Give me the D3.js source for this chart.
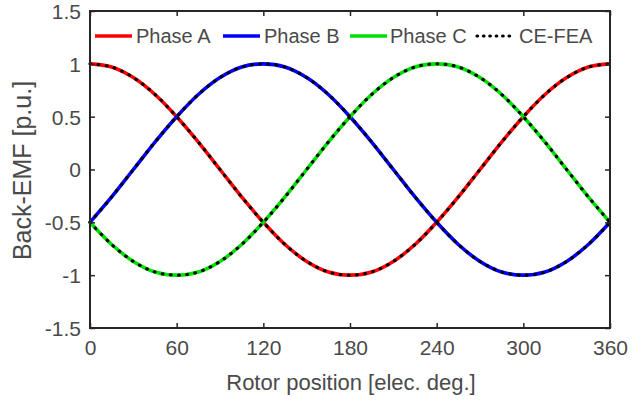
<!DOCTYPE html>
<html>
<head>
<meta charset="utf-8">
<script src="https://cdn.jsdelivr.net/npm/d3@7"></script>
<style>
  html, body { margin: 0; padding: 0; background: #fff; }
  svg { display: block; font-family: "Liberation Sans", Arial, sans-serif; }
</style>
</head>
<body>
<svg id="chart" width="644" height="401"></svg>
<script>
// Rotor position samples [elec. deg.]
const angles = [0, 15, 30, 45, 60, 75, 90, 105, 120, 135, 150, 165, 180,
                195, 210, 225, 240, 255, 270, 285, 300, 315, 330, 345, 360];

// Back-EMF per phase [p.u.]
const phaseA = [1, 0.97, 0.87, 0.71, 0.5, 0.26, 0, -0.26, -0.5, -0.71, -0.87, -0.97, -1,
                -0.97, -0.87, -0.71, -0.5, -0.26, 0, 0.26, 0.5, 0.71, 0.87, 0.97, 1];
const phaseB = [-0.5, -0.26, 0, 0.26, 0.5, 0.71, 0.87, 0.97, 1, 0.97, 0.87, 0.71, 0.5,
                0.26, 0, -0.26, -0.5, -0.71, -0.87, -0.97, -1, -0.97, -0.87, -0.71, -0.5];
const phaseC = [-0.5, -0.71, -0.87, -0.97, -1, -0.97, -0.87, -0.71, -0.5, -0.26, 0, 0.26, 0.5,
                0.71, 0.87, 0.97, 1, 0.97, 0.87, 0.71, 0.5, 0.26, 0, -0.26, -0.5];

// CE-FEA results for the three phases
const feaA = [1, 0.97, 0.87, 0.71, 0.5, 0.26, 0, -0.26, -0.5, -0.71, -0.87, -0.97, -1,
              -0.97, -0.87, -0.71, -0.5, -0.26, 0, 0.26, 0.5, 0.71, 0.87, 0.97, 1];
const feaB = [-0.5, -0.26, 0, 0.26, 0.5, 0.71, 0.87, 0.97, 1, 0.97, 0.87, 0.71, 0.5,
              0.26, 0, -0.26, -0.5, -0.71, -0.87, -0.97, -1, -0.97, -0.87, -0.71, -0.5];
const feaC = [-0.5, -0.71, -0.87, -0.97, -1, -0.97, -0.87, -0.71, -0.5, -0.26, 0, 0.26, 0.5,
              0.71, 0.87, 0.97, 1, 0.97, 0.87, 0.71, 0.5, 0.26, 0, -0.26, -0.5];

const xTicks = [0, 60, 120, 180, 240, 300, 360];
const yTicks = [-1.5, -1, -0.5, 0, 0.5, 1, 1.5];
const legendLabels = ["Phase A", "Phase B", "Phase C", "CE-FEA"];

const svg = d3.select("#chart");
const plotLeft = 90, plotRight = 610, plotTop = 11, plotBottom = 328;

const x = d3.scaleLinear().domain([0, 360]).range([plotLeft, plotRight]);
const y = d3.scaleLinear().domain([-1.5, 1.5]).range([plotBottom, plotTop]);

const axisColor = "#262626";
const textColor = "#4a4a4a";
const fontFamily = "'Liberation Sans', Arial, sans-serif";
const dotDash = "0.6 7.6";

const line = d3.line()
  .x((d, i) => x(angles[i]))
  .y(d => y(d))
  .curve(d3.curveCatmullRom.alpha(0.5));

const plot = svg.append("g");

// Solid phase curves
const phases = [
  { values: phaseA, color: "#ff0000" },
  { values: phaseB, color: "#0000ff" },
  { values: phaseC, color: "#00e000" }
];
phases.forEach(p => {
  plot.append("path")
    .attr("d", line(p.values))
    .attr("fill", "none")
    .attr("stroke", p.color)
    .attr("stroke-width", 3.6);
});

// Dotted CE-FEA overlay
[feaA, feaB, feaC].forEach(v => {
  plot.append("path")
    .attr("d", line(v))
    .attr("fill", "none")
    .attr("stroke", "#000")
    .attr("stroke-width", 3.2)
    .attr("stroke-linecap", "round")
    .attr("stroke-dasharray", dotDash);
});

// Axes with inward ticks on all four sides
const tickLen = 5;
const plainNum = d => String(d);
const gx = svg.append("g").attr("transform", `translate(0,${plotBottom})`)
  .call(d3.axisBottom(x).tickValues(xTicks).tickSizeInner(-tickLen).tickSizeOuter(0)
    .tickPadding(12).tickFormat(plainNum));
const gxTop = svg.append("g").attr("transform", `translate(0,${plotTop})`)
  .call(d3.axisTop(x).tickValues(xTicks).tickSizeInner(-tickLen).tickSizeOuter(0).tickFormat(""));
const gy = svg.append("g").attr("transform", `translate(${plotLeft},0)`)
  .call(d3.axisLeft(y).tickValues(yTicks).tickSizeInner(-tickLen).tickSizeOuter(0)
    .tickPadding(9).tickFormat(plainNum));
const gyRight = svg.append("g").attr("transform", `translate(${plotRight},0)`)
  .call(d3.axisRight(y).tickValues(yTicks).tickSizeInner(-tickLen).tickSizeOuter(0).tickFormat(""));

[gx, gxTop, gy, gyRight].forEach(g => {
  g.select(".domain").remove();
  g.selectAll(".tick line").attr("stroke", axisColor).attr("stroke-width", 1.5);
  g.selectAll(".tick text")
    .attr("fill", textColor)
    .style("font-size", "21px")
    .style("font-family", fontFamily);
});
gy.selectAll(".tick text").attr("dy", "0.35em");
gx.selectAll(".tick text").attr("dy", "0.71em");

// Box
svg.append("rect")
  .attr("x", plotLeft).attr("y", plotTop)
  .attr("width", plotRight - plotLeft).attr("height", plotBottom - plotTop)
  .attr("fill", "none").attr("stroke", axisColor).attr("stroke-width", 2);

// Axis labels
svg.append("text")
  .attr("x", (plotLeft + plotRight) / 2 + 1).attr("y", 390)
  .attr("text-anchor", "middle")
  .attr("fill", textColor)
  .style("font-size", "22px")
  .text("Rotor position [elec. deg.]");

svg.append("text")
  .attr("transform", `translate(31,${(plotTop + plotBottom) / 2 + 1}) rotate(-90)`)
  .attr("text-anchor", "middle")
  .attr("fill", textColor)
  .style("font-size", "25px")
  .text("Back-EMF [p.u.]");

// Legend
const legendY = 36;
const legendItems = [
  { label: legendLabels[0], color: "#ff0000", x0: 95, x1: 132, tx: 136, dotted: false },
  { label: legendLabels[1], color: "#0000ff", x0: 223, x1: 260, tx: 264, dotted: false },
  { label: legendLabels[2], color: "#00e000", x0: 350, x1: 387, tx: 390, dotted: false },
  { label: legendLabels[3], color: "#000", x0: 477, x1: 515, tx: 519, dotted: true }
];
const lg = svg.append("g");
legendItems.forEach(it => {
  lg.append("line")
    .attr("x1", it.x0).attr("x2", it.x1)
    .attr("y1", legendY).attr("y2", legendY)
    .attr("stroke", it.color)
    .attr("stroke-width", it.dotted ? 3.2 : 3.6)
    .attr("stroke-linecap", it.dotted ? "round" : "butt")
    .attr("stroke-dasharray", it.dotted ? "0.6 5.8" : null);
  lg.append("text")
    .attr("x", it.tx).attr("y", legendY)
    .attr("dy", "0.35em")
    .attr("fill", textColor)
    .style("font-size", "20px")
    .text(it.label);
});
</script>
</body>
</html>
